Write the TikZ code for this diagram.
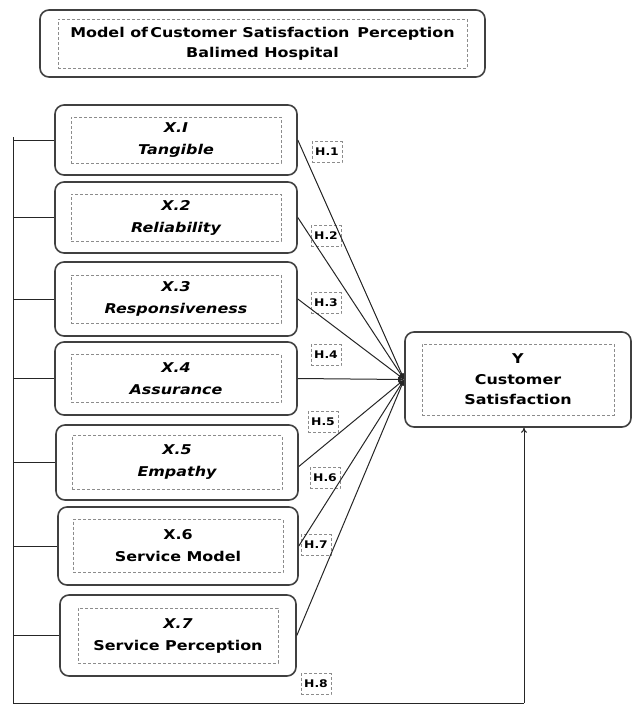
\documentclass[tikz,border=0pt]{standalone}
\usepackage{fontspec}
\setmainfont{DejaVu Sans}[FakeStretch=1.18]
\usetikzlibrary{arrows.meta}
\begin{document}
\begin{tikzpicture}[x=1pt,y=-1pt,
  outer/.style={draw=black!75, line width=1.6pt, rounded corners=9pt, fill=white},
  inner/.style={draw=black!45, densely dashed, line width=0.6pt, align=center,
    font=\fontsize{13.5}{22}\selectfont\bfseries, inner sep=0pt},
  hlab/.style={draw=black!45, densely dashed, line width=0.6pt, fill=white,
    font=\fontsize{10.5}{12}\selectfont\bfseries, inner sep=2pt, minimum width=30pt, minimum height=21pt},
  link/.style={line width=1pt, black!85},
  tip/.style={-{Latex[length=6pt,width=5pt]}}
]
\useasboundingbox (0,0) rectangle (644,705);
% title
\node[outer, minimum width=445pt, minimum height=67pt] (T) at (262.5,43.5) {};
\node[inner, minimum width=409pt, minimum height=49pt, font=\fontsize{13.5}{20}\selectfont\bfseries] (Ti) at (T.center) {Model of\,Customer Satisfaction\, Perception\\Balimed Hospital};
% left boxes
\node[outer, minimum width=242pt, minimum height=70pt] (X1) at (176,140) {};
\node[inner, minimum width=210pt, minimum height=46pt] (X1i) at (X1.center) {\itshape X.I\\\itshape Tangible};
\node[outer, minimum width=242pt, minimum height=71pt] (X2) at (176,217.5) {};
\node[inner, minimum width=210pt, minimum height=47pt] (X2i) at (X2.center) {\itshape X.2\\\itshape Reliability};
\node[outer, minimum width=242pt, minimum height=74pt] (X3) at (176,299) {};
\node[inner, minimum width=210pt, minimum height=48pt] (X3i) at (X3.center) {\itshape X.3\\\itshape Responsiveness};
\node[outer, minimum width=242pt, minimum height=73pt] (X4) at (176,378.5) {};
\node[inner, minimum width=210pt, minimum height=48pt] (X4i) at (X4.center) {\itshape X.4\\\itshape Assurance};
\node[outer, minimum width=242pt, minimum height=75pt] (X5) at (177,462.5) {};
\node[inner, minimum width=210pt, minimum height=54pt] (X5i) at (X5.center) {\itshape X.5\\\itshape Empathy};
\node[outer, minimum width=240pt, minimum height=78pt] (X6) at (178,546) {};
\node[inner, minimum width=210pt, minimum height=53pt] (X6i) at (X6.center) {X.6\\Service Model};
\node[outer, minimum width=236pt, minimum height=81pt] (X7) at (178,635.5) {};
\node[inner, minimum width=200pt, minimum height=55pt] (X7i) at (X7.center) {\itshape X.7\\Service Perception};
% Y box
\node[outer, minimum width=226pt, minimum height=95pt] (Y) at (518,379.5) {};
\node[inner, minimum width=192pt, minimum height=71pt, font=\fontsize{13.5}{20.5}\selectfont\bfseries] (Yi) at (Y.center) {Y\\Customer\\Satisfaction};
% H labels
\node[hlab] (H1) at (327,152) {H.1};
\node[hlab] (H2) at (326,236) {H.2};
\node[hlab] (H3) at (326,303) {H.3};
\node[hlab] (H4) at (326,355) {H.4};
\node[hlab] (H5) at (323,422) {H.5};
\node[hlab] (H6) at (325,478) {H.6};
\node[hlab] (H7) at (316,545) {H.7};
\node[hlab] (H8) at (316,684) {H.8};
% converging arrows
\draw[link, tip] (X1.east) -- (Y.west);
\draw[link, tip] (X2.east) -- (Y.west);
\draw[link, tip] (X3.east) -- (Y.west);
\draw[link, tip] (X4.east) -- (Y.west);
\draw[link, tip] ([yshift=-4pt]X5.east) -- (Y.west);
\draw[link, tip] (X6.east) -- (Y.west);
\draw[link, tip] (X7.east) -- (Y.west);
% left bus
\coordinate (lt) at (13,137);
\coordinate (lb) at (13,703);
\coordinate (rb) at (524,703);
\draw[link] (lt) -- (lb) -- (rb);
\draw[link, -{To[length=5pt,width=6pt]}] (rb) -- (rb |- Y.south);
\foreach \n in {X1,X2,X3,X4,X5,X6,X7}
  \draw[link] (\n.west) -- (\n.west -| lt);
\end{tikzpicture}
\end{document}
